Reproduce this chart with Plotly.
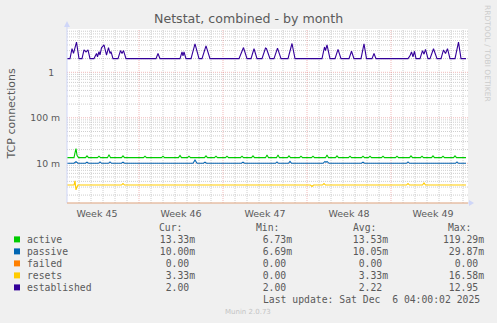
import math
import pandas as pd
import plotly.graph_objects as go

# ---------------- data ----------------
T0 = pd.Timestamp("2025-11-03 00:00:00")   # left edge of the graph
X_SPAN_H = 802                              # hours shown

# established (connections)
est_hours = [
    0, 6, 10, 13, 19, 24,
    30, 34, 38, 42, 46,
    54, 59, 61, 64, 66, 69, 74, 79, 83, 86, 88, 92,
    102, 107, 110, 113, 118,
    178, 182, 186,
    226, 230, 232, 234, 238,
    248, 256, 264,
    270, 278, 286,
    344, 353, 360,
    368, 374, 380,
    390, 397, 399, 406,
    414, 421, 428,
    442, 450, 456,
    510, 515, 517, 520, 526,
    536, 542, 548,
    564, 569, 574,
    588, 594, 599,
    610, 614, 618,
    682, 686, 689, 692, 695, 698,
    706, 711, 714, 717, 722,
    726, 733, 740,
    748, 753, 757, 761, 766,
    776, 783, 788,
    798,
]
est_vals = [
    2.0, 2.0, 3.3, 2.6, 4.6, 2.0,
    2.0, 3.1, 2.8, 3.1, 2.0,
    2.0, 2.6, 2.2, 2.85, 2.4, 3.45, 4.0, 2.4, 3.5, 2.6, 2.85, 2.0,
    2.0, 3.0, 2.6, 3.0, 2.0,
    2.0, 2.6, 2.0,
    2.0, 2.8, 2.3, 2.8, 2.0,
    2.0, 4.2, 2.0,
    2.0, 3.8, 2.0,
    2.0, 3.5, 2.0,
    2.0, 3.3, 2.0,
    2.0, 3.4, 3.3, 2.0,
    2.0, 3.4, 2.0,
    2.0, 4.3, 2.0,
    2.0, 3.6, 3.0, 4.0, 2.0,
    2.0, 3.2, 2.0,
    2.0, 2.9, 2.0,
    2.0, 4.2, 2.0,
    2.0, 2.6, 2.0,
    2.0, 2.3, 2.8, 2.2, 2.9, 2.0,
    2.0, 3.0, 2.5, 3.2, 2.0,
    2.0, 3.3, 2.0,
    2.0, 3.1, 2.6, 3.3, 2.0,
    2.0, 4.6, 2.0,
    2.0,
]

# active (milli-connections)
act_hours = [
    0, 14, 16, 18, 20, 23,
    37, 40, 43,
    61, 64, 67,
    81, 84, 87,
    109, 112, 115,
    153, 156, 159,
    189, 192, 195,
    223, 226, 229,
    241, 244, 247,
    275, 278, 281,
    295, 298, 301,
    317, 320, 323,
    347, 350, 353,
    369, 372, 375,
    397, 400, 403,
    419, 422, 425,
    441, 444, 447,
    465, 468, 471,
    489, 492, 495,
    517, 520, 523,
    537, 540, 543,
    563, 566, 569,
    589, 592, 595,
    603, 606, 609,
    629, 632, 635,
    657, 660, 663,
    685, 688, 691,
    707, 710, 713,
    729, 732, 735,
    749, 752, 755,
    773, 776, 779,
    798,
]
act_vals_m = [
    13.3, 13.3, 17.0, 21.0, 15.0, 13.3,
    13.3, 14.6, 13.3,
    13.3, 14.3, 13.3,
    13.3, 15.5, 13.3,
    13.3, 14.5, 13.3,
    13.3, 14.3, 13.3,
    13.3, 14.3, 13.3,
    13.3, 14.8, 13.3,
    13.3, 14.3, 13.3,
    13.3, 14.5, 13.3,
    13.3, 14.3, 13.3,
    13.3, 14.3, 13.3,
    13.3, 14.3, 13.3,
    13.3, 14.5, 13.3,
    13.3, 15.2, 13.3,
    13.3, 15.2, 13.3,
    13.3, 14.5, 13.3,
    13.3, 14.3, 13.3,
    13.3, 14.3, 13.3,
    13.3, 15.2, 13.3,
    13.3, 14.5, 13.3,
    13.3, 14.3, 13.3,
    13.3, 14.3, 13.3,
    13.3, 14.3, 13.3,
    13.3, 14.3, 13.3,
    13.3, 14.3, 13.3,
    13.3, 14.5, 13.3,
    13.3, 14.3, 13.3,
    13.3, 14.5, 13.3,
    13.3, 14.3, 13.3,
    13.3, 14.5, 13.3,
    13.3,
]

# passive (milli-connections)
pas_hours = [
    0, 14, 18, 22,
    37, 40, 43,
    63, 66, 69,
    83, 86, 89,
    109, 112, 115,
    252, 256, 260,
    273, 276, 279,
    349, 352, 355,
    417, 420, 423,
    443, 446, 449,
    512, 516, 518, 520, 524,
    589, 592, 595,
    679, 682, 685,
    777, 780, 783,
    798,
]
pas_vals_m = [
    10.0, 10.0, 10.8, 10.0,
    10.0, 10.6, 10.0,
    10.0, 10.7, 10.0,
    10.0, 10.7, 10.0,
    10.0, 10.6, 10.0,
    10.0, 11.8, 10.0,
    10.0, 10.6, 10.0,
    10.0, 10.6, 10.0,
    10.0, 10.7, 10.0,
    10.0, 11.0, 10.0,
    10.0, 11.0, 10.5, 11.0, 10.0,
    10.0, 10.6, 10.0,
    10.0, 10.7, 10.0,
    10.0, 10.7, 10.0,
    10.0,
]

# resets (milli)
res_hours = [0, 14, 16, 18, 20, 22, 109, 112, 115, 487, 490, 493,
             511, 514, 517, 679, 682, 685, 711, 714, 717, 798]
res_vals_m = [3.33, 3.33, 4.1, 2.6, 3.0, 3.33, 3.33, 3.6, 3.33, 3.33, 3.1, 3.33,
              3.33, 3.6, 3.33, 3.33, 3.6, 3.33, 3.33, 3.7, 3.33, 3.33]

# failed: always 0 (drawn on the floor of the log scale)
failed_value = 0.0

# axis ticks
week_labels = ["Week 45", "Week 46", "Week 47", "Week 48", "Week 49"]
week_label_times = ["2025-11-05 12:00", "2025-11-12 12:00", "2025-11-19 12:00",
                    "2025-11-26 12:00", "2025-12-03 12:00"]
week_boundaries = ["2025-11-09 00:00", "2025-11-16 00:00", "2025-11-23 00:00",
                   "2025-11-30 00:00"]
y_tick_vals = [0.01, 0.1, 1]
y_tick_text = ["10 m", "100 m", "1\u00a0\u00a0"]

# legend table
series_names = ["active", "passive", "failed", "resets", "established"]
series_colors = ["#00CC00", "#0066B3", "#FF8000", "#FFCC00", "#330099"]
cur_text = ["13.33m", "10.00m", "0.00", "3.33m", "2.00"]
min_text = ["6.73m", "6.69m", "0.00", "0.00", "2.00"]
avg_text = ["13.53m", "10.05m", "0.00", "3.33m", "2.22"]
max_text = ["119.29m", "29.87m", "0.00", "16.58m", "12.95"]
last_update = "Last update: Sat Dec  6 04:00:02 2025"

assert len(est_hours) == len(est_vals)
assert len(act_hours) == len(act_vals_m)
assert len(pas_hours) == len(pas_vals_m)
assert len(res_hours) == len(res_vals_m)

# ---------------- layout geometry ----------------
W, H = 497, 323
PL, PR, PT, PB = 67, 468, 29, 203
Y_LOG_MIN, Y_LOG_MAX = -2.873, 0.952
FONT_COL = "#5a5a5a"
AXIS_COL = "#CFD6F8"


def times(hours):
    return [T0 + pd.Timedelta(hours=h) for h in hours]


def fx(px):
    return (px - PL) / (PR - PL)


def fy(py):
    return (PB - py) / (PB - PT)


def fy_val(v):
    return (math.log10(v) - Y_LOG_MIN) / (Y_LOG_MAX - Y_LOG_MIN)


fig = go.Figure()

series = [
    (act_hours, [v / 1000 for v in act_vals_m], series_colors[0]),
    (pas_hours, [v / 1000 for v in pas_vals_m], series_colors[1]),
    (res_hours, [v / 1000 for v in res_vals_m], series_colors[3]),
    (est_hours, est_vals, series_colors[4]),
]
for hrs, vals, col in series:
    fig.add_trace(go.Scatter(x=times(hrs), y=vals, mode="lines",
                             line=dict(color=col, width=1.1),
                             hoverinfo="skip", showlegend=False))

shapes = []
GRID = "rgba(185,185,185,0.7)"
MGRID = "rgba(222,100,100,0.45)"
# horizontal grid
for e in range(-3, 1):
    for m in range(1, 10):
        v = m * 10 ** e
        lv = math.log10(v)
        if lv <= Y_LOG_MIN or lv >= Y_LOG_MAX:
            continue
        col = MGRID if m == 1 else GRID
        shapes.append(dict(type="line", xref="paper", yref="paper",
                           x0=0, x1=1, y0=fy_val(v), y1=fy_val(v),
                           line=dict(color=col, width=1, dash="1px,1px"),
                           layer="below"))
# vertical grid: daily minor lines, weekly major lines
for d in range(1, int(X_SPAN_H // 24) + 1):
    tt = T0 + pd.Timedelta(days=d)
    is_major = str(tt)[:16] in week_boundaries
    shapes.append(dict(type="line", xref="x", yref="paper",
                       x0=str(tt), x1=str(tt), y0=0, y1=1,
                       line=dict(color=MGRID if is_major else GRID, width=1,
                                 dash="1px,1px"),
                       layer="below"))

# axes lines and arrows
shapes.append(dict(type="line", xref="paper", yref="paper",
                   x0=fx(67), x1=fx(67), y0=fy(203), y1=fy(26),
                   line=dict(color=AXIS_COL, width=1)))
shapes.append(dict(type="path", xref="paper", yref="paper",
                   path=f"M {fx(64)} {fy(27)} L {fx(70)} {fy(27)} L {fx(67)} {fy(21)} Z",
                   fillcolor=AXIS_COL, line=dict(width=0)))
shapes.append(dict(type="line", xref="paper", yref="paper",
                   x0=fx(67), x1=fx(469), y0=fy(203), y1=fy(203),
                   line=dict(color=AXIS_COL, width=1)))
# failed series (value 0) lies on the floor of the log scale
shapes.append(dict(type="line", xref="paper", yref="paper",
                   x0=fx(67), x1=fx(468), y0=fy(203), y1=fy(203),
                   line=dict(color="rgba(255,128,0,0.5)", width=1)))
shapes.append(dict(type="path", xref="paper", yref="paper",
                   path=f"M {fx(469)} {fy(200)} L {fx(469)} {fy(206)} L {fx(474)} {fy(203)} Z",
                   fillcolor=AXIS_COL, line=dict(width=0)))

# legend squares
row_y = [239.4, 251.4, 263.4, 275.4, 287.4]
for col, ry in zip(series_colors, row_y):
    shapes.append(dict(type="rect", xref="paper", yref="paper",
                       x0=fx(14), x1=fx(20), y0=fy(ry + 3), y1=fy(ry - 3),
                       fillcolor=col, line=dict(width=0)))

annotations = []


def add_text(text, px, py, size, color=FONT_COL, family="DejaVu Sans",
             xanchor="left", angle=0):
    annotations.append(dict(text=text, xref="paper", yref="paper",
                            x=fx(px), y=fy(py), xanchor=xanchor,
                            yanchor="middle", showarrow=False,
                            textangle=angle, borderpad=0,
                            font=dict(family=family, size=size, color=color)))


add_text("Netstat, combined - by month", 248, 19, 12.6, xanchor="center")
add_text("TCP connections", 10.5, 114, 11, xanchor="center", angle=-90)
add_text("RRDTOOL / TOBI OETIKER", 487.5, 53.5, 7.5, color="#cccccc",
         xanchor="center", angle=90)
add_text("Munin 2.0.73", 248, 312, 7, color="#c4c4c4", xanchor="center")

MONO = "DejaVu Sans Mono"
MS = 9.75
NB = "\u00a0"


def cell(s, width=7):
    if s[-1].isalpha():
        body = s
    else:
        body = s + NB
    return NB * (width - len(body)) + body


add_text("Cur:", 158.3, 227.8, MS, family=MONO)
add_text("Min:", 255.0, 227.8, MS, family=MONO)
add_text("Avg:", 351.7, 227.8, MS, family=MONO)
add_text("Max:", 446.7, 227.8, MS, family=MONO)
for i, name in enumerate(series_names):
    ry = row_y[i]
    add_text(name, 26.3, ry, MS, family=MONO)
    add_text(cell(cur_text[i]), 152.8, ry, MS, family=MONO)
    add_text(cell(min_text[i]), 250.0, ry, MS, family=MONO)
    add_text(cell(avg_text[i]), 345.8, ry, MS, family=MONO)
    add_text(cell(max_text[i]), 441.7, ry, MS, family=MONO)
add_text(last_update.replace(" ", NB), 261.7, 299.7, MS, family=MONO)

fig.update_layout(
    width=W, height=H, autosize=False,
    margin=dict(l=PL, r=W - PR, t=PT, b=H - PB, pad=0),
    paper_bgcolor="#F0F0F0", plot_bgcolor="#FFFFFF",
    showlegend=False, hovermode=False,
    shapes=shapes, annotations=annotations,
    xaxis=dict(type="date",
               range=[str(T0), str(T0 + pd.Timedelta(hours=X_SPAN_H))],
               tickmode="array", tickvals=week_label_times, ticktext=week_labels,
               showgrid=False, zeroline=False, showline=False,
               ticks="outside", ticklen=2, tickcolor="rgba(0,0,0,0)",
               tickfont=dict(family="DejaVu Sans", size=9.5, color=FONT_COL),
               fixedrange=True),
    yaxis=dict(type="log", range=[Y_LOG_MIN, Y_LOG_MAX],
               tickmode="array", tickvals=y_tick_vals, ticktext=y_tick_text,
               showgrid=False, zeroline=False, showline=False,
               ticks="outside", ticklen=4, tickcolor="rgba(0,0,0,0)",
               tickfont=dict(family="DejaVu Sans", size=9.3, color=FONT_COL),
               fixedrange=True),
)

fig.write_html("out.html", config={"displayModeBar": False, "staticPlot": True})
